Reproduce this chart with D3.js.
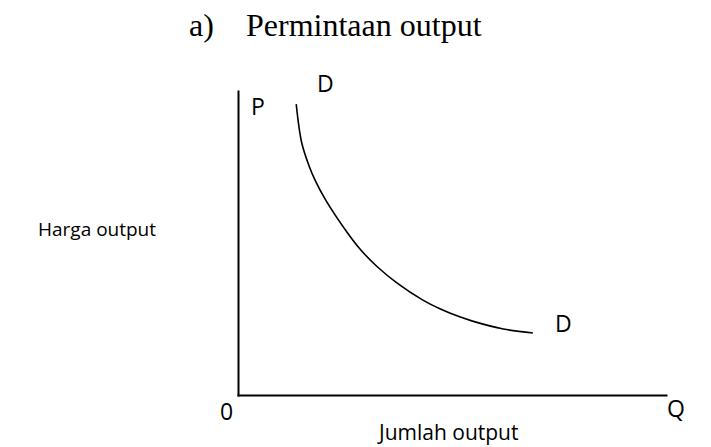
<!DOCTYPE html>
<html>
<head>
<meta charset="utf-8">
<script src="https://cdn.jsdelivr.net/npm/d3@7"></script>
<style>
  html, body { margin: 0; padding: 0; background: #fff; }
  svg { display: block; }
</style>
</head>
<body>
<div id="chart"></div>
<script>
// ---- data ----
const titleIndex = "a)";
const titleText = "Permintaan output";
const yAxisLabel = "Harga output";
const xAxisLabel = "Jumlah output";
const yAxisSymbol = "P";
const xAxisSymbol = "Q";
const originLabel = "0";
const curveLabel = "D";
// demand curve: quantity (Q) and price (P), on a 0–100 index scale
const demandQ = [13.6, 14.9, 16.7, 18.0, 20.5, 25.6, 28.7, 32.6, 37.2, 43.1, 47.3, 51.8, 54.8, 62.0, 68.9];
const demandP = [95.7, 82.9, 75.0, 70.7, 64.1, 53.3, 47.7, 42.1, 36.8, 31.3, 28.3, 25.7, 24.3, 21.7, 20.4];

const W = 711, H = 447;
const svg = d3.select("#chart").append("svg").attr("width", W).attr("height", H);

const x = d3.scaleLinear().domain([0, 100]).range([238, 666]);
const y = d3.scaleLinear().domain([0, 100]).range([395, 91]);

// axes (plain lines, no ticks)
const xAxis = d3.axisBottom(x).tickValues([]).tickSizeOuter(0);
const yAxis = d3.axisLeft(y).tickValues([]).tickSizeOuter(0);
svg.append("g").attr("transform", `translate(0,${y(0)})`).call(xAxis)
  .select(".domain").attr("stroke", "#000").attr("stroke-width", 2).attr("stroke-linecap", "square");
svg.append("g").attr("transform", `translate(${x(0)},0)`).call(yAxis)
  .select(".domain").attr("stroke", "#000").attr("stroke-width", 2).attr("stroke-linecap", "square");

// demand curve
const pts = demandQ.map((q, i) => [q, demandP[i]]);
const line = d3.line().x(d => x(d[0])).y(d => y(d[1])).curve(d3.curveCatmullRom.alpha(0.5));
svg.append("path").datum(pts).attr("d", line)
  .attr("fill", "none").attr("stroke", "#000").attr("stroke-width", 1.6);

// title
const serif = "'Liberation Serif', 'Times New Roman', serif";
svg.append("text").attr("x", 189).attr("y", 36)
  .attr("font-family", serif).attr("font-size", 32).attr("fill", "#000").text(titleIndex);
svg.append("text").attr("x", 246).attr("y", 36)
  .attr("font-family", serif).attr("font-size", 32).attr("fill", "#000").text(titleText);

const sans = "'Open Sans', 'Noto Sans', sans-serif";
function label(t, px, py, size, anchor) {
  svg.append("text").attr("x", px).attr("y", py)
    .attr("font-family", sans).attr("font-size", size)
    .attr("text-anchor", anchor || "start").attr("fill", "#000").text(t);
}
label(yAxisSymbol, 251, 115, 23);
label(curveLabel, 317, 92, 23);
label(curveLabel, 555, 332, 23);
label(xAxisSymbol, 667, 417, 23);
label(originLabel, 220, 420, 23);
label(yAxisLabel, 38, 236, 19);
label(xAxisLabel, 379, 440, 21);
</script>
</body>
</html>
